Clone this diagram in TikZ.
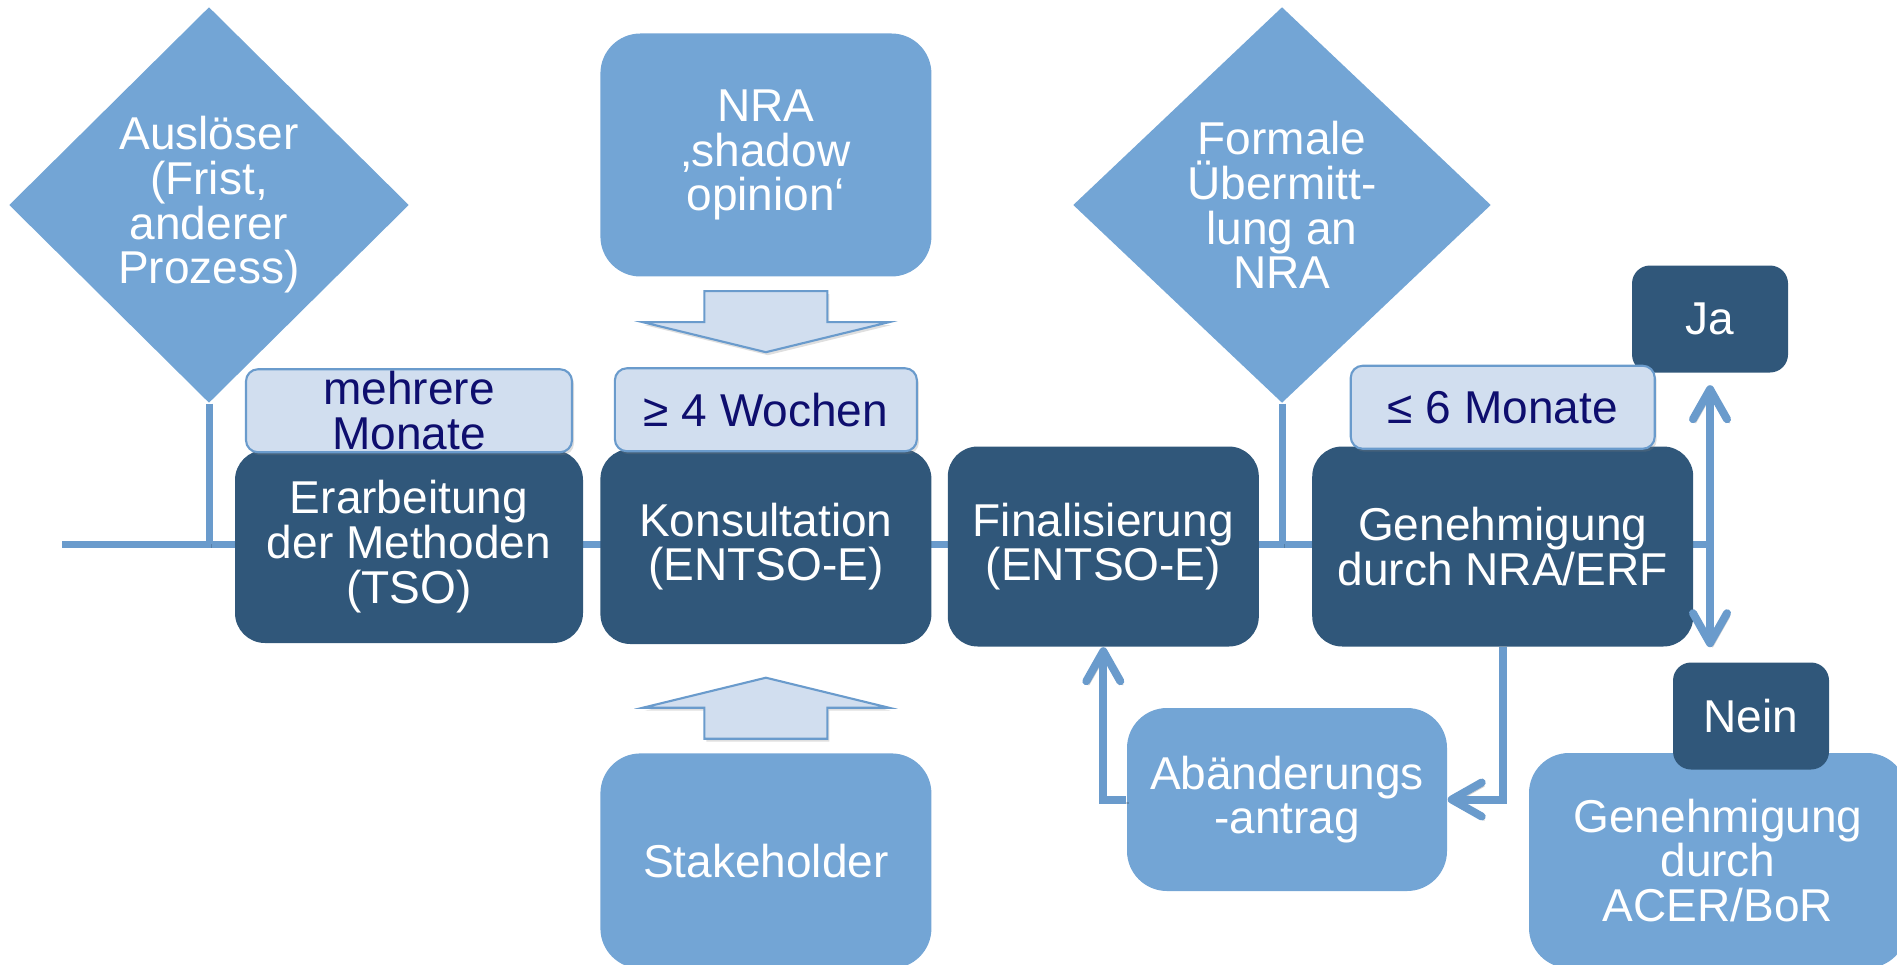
\documentclass[tikz,border=0pt]{standalone}
\usepackage{fontspec}
\setmainfont{Liberation Sans}
\usetikzlibrary{shapes.geometric, positioning, calc, arrows.meta, shadows}

\definecolor{boxdark}{HTML}{30577A}
\definecolor{boxlight}{HTML}{73A5D5}
\definecolor{lblfill}{HTML}{D1DEEF}
\definecolor{linkblue}{HTML}{6A9BCC}
\definecolor{lbltext}{HTML}{0E0E6E}

\begin{document}
\begin{tikzpicture}[font=\fontsize{13.1}{12.7}\selectfont]
  \newcommand\boxgap{0.16}
  \newcommand\lbloverlap{-0.04}
  \newcommand\timeliney{-5.44}

  \tikzset{lineshadow/.style={preaction={draw=black, opacity=0.18, transform canvas={shift={(0.025cm,-0.035cm)}}}}}
  \tikzset{timeline/.style={draw=linkblue, line width=0.07cm, lineshadow}}
  \tikzset{ptr/.style={draw=linkblue, line width=0.08cm, lineshadow, -{Straight Barb[length=0.3cm, width=0.34cm, round]}}}
  \tikzset{dblptr/.style={ptr, {Straight Barb[length=0.3cm, width=0.34cm, round]}-{Straight Barb[length=0.3cm, width=0.34cm, round]}}}

  \tikzset{basebox/.style={text=white, align=center, inner sep=0pt}}
  \tikzset{procbox/.style={basebox, fill=boxdark, rounded corners=0.3cm}}
  \tikzset{infobox/.style={basebox, fill=boxlight, rounded corners=0.4cm}}
  \tikzset{answerbox/.style={procbox, rounded corners=0.18cm, minimum width=1.56cm, minimum height=1.07cm}}
  \tikzset{durlbl/.style={draw=linkblue, line width=0.6pt, fill=lblfill, text=lbltext, rounded corners=0.12cm, align=center, inner sep=0pt, minimum height=0.83cm, drop shadow={opacity=0.25, shadow xshift=0.02cm, shadow yshift=-0.03cm}}}
  \tikzset{trigger/.style={basebox, diamond, fill=boxlight, minimum height=3.96cm}}
  \tikzset{blockarrow/.style={draw=linkblue, line width=0.6pt, fill=lblfill, drop shadow={opacity=0.25, shadow xshift=0.02cm, shadow yshift=-0.03cm}}}

  \useasboundingbox (0,0) rectangle (18.97,-9.64);

  % time line
  \coordinate (tl-start) at (0.62,\timeliney);

  % triggers
  \node[trigger, minimum width=4.0cm] at (2.09,-2.05) (trig1) {Auslöser\\(Frist,\\anderer\\Prozess)};
  \node[trigger, minimum width=4.18cm] at (12.82,-2.05) (trig2) {Formale\\Übermitt-\\lung an\\NRA};

  \node[answerbox] at (17.10,-3.19) (yes) {Ja};

  \draw[timeline] (tl-start) -- (yes.south |- tl-start);
  \draw[timeline] (trig1.south) -- (trig1.south |- tl-start);
  \draw[timeline] (trig2.south) -- (trig2.south |- tl-start);

  % process steps
  \node[procbox, minimum width=3.48cm, minimum height=1.93cm] at (4.09,-5.465) (step1) {Erarbeitung\\der Methoden\\(TSO)};
  \node[procbox, right=\boxgap of step1, minimum width=3.31cm, minimum height=1.95cm] (step2) {Konsultation\\(ENTSO-E)};
  \node[procbox, right=0.15 of step2, minimum width=3.11cm, minimum height=2.0cm] (step3) {Finalisierung\\(ENTSO-E)};
  \node[procbox, right=0.52 of step3, minimum width=3.81cm, minimum height=2.0cm] (step4) {Genehmigung\\durch NRA/ERF};

  % durations
  \node[durlbl, above=\lbloverlap of step1, minimum width=3.26cm] (dur1) {mehrere\\Monate};
  \node[durlbl, above=\lbloverlap of step2, minimum width=3.02cm] (dur2) {≥ 4 Wochen};
  \node[durlbl, above=\lbloverlap of step4, minimum width=3.04cm] (dur4) {≤ 6 Monate};

  % inputs to the consultation
  \node[infobox, above=0.90 of dur2, minimum width=3.31cm, minimum height=2.43cm] (nra) {NRA\\‚shadow\\opinion‘};
  \node[infobox, below=1.08 of step2, minimum width=3.31cm, minimum height=2.15cm] (stake) {Stakeholder};

  \foreach \from/\dir in {nra.south/-1, stake.north/1}{
    \draw[blockarrow] ($(\from)+(-0.615,\dir*0.14)$) -- ($(\from)+(-0.615,\dir*0.45)$)
      -- ($(\from)+(-1.23,\dir*0.45)$) -- ($(\from)+(0,\dir*0.75)$) -- ($(\from)+(1.23,\dir*0.45)$)
      -- ($(\from)+(0.615,\dir*0.45)$) -- ($(\from)+(0.615,\dir*0.14)$) -- cycle;
  }

  % outcome of the approval
  \node[infobox, minimum width=3.20cm, minimum height=1.83cm] at (12.87,-7.995) (amend) {Abänderungs\\-antrag};
  \node[infobox, minimum width=3.78cm, minimum height=2.15cm] at (17.18,-8.605) (acer) {Genehmigung\\durch\\ACER/BoR};
  \node[answerbox] at (17.51,-7.16) (no) {Nein};

  \draw[ptr] (step4.south) |- (amend.east);
  \draw[ptr] (amend.west) -| (step3.south);
  \draw[dblptr] ([yshift=-0.12cm]yes.south) -- (yes.south |- step4.south);
\end{tikzpicture}
\end{document}
